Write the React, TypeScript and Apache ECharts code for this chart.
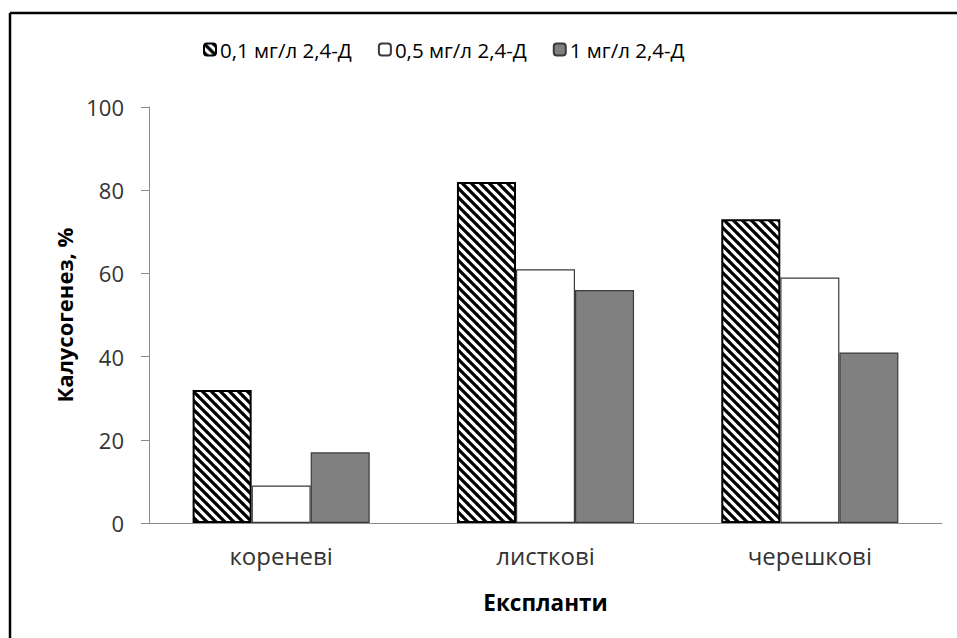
import React, { useEffect, useRef } from "react";
import * as echarts from "echarts";

const categories = ["кореневі", "листкові", "черешкові"];
const seriesNames = ["0,1 мг/л 2,4-Д", "0,5 мг/л 2,4-Д", "1 мг/л 2,4-Д"];
const values01 = [32, 82, 73];
const values05 = [9, 61, 59];
const values1 = [17, 56, 41];
const yTicks = [0, 20, 40, 60, 80, 100];

const FONT = "Open Sans";

function makeHatch(): HTMLCanvasElement {
  const s = 9;
  const c = document.createElement("canvas");
  c.width = s;
  c.height = s;
  const ctx = c.getContext("2d")!;
  ctx.fillStyle = "#fff";
  ctx.fillRect(0, 0, s, s);
  ctx.strokeStyle = "#000";
  ctx.lineWidth = 3.2;
  ctx.beginPath();
  ctx.moveTo(-1, -1);
  ctx.lineTo(s + 1, s + 1);
  ctx.moveTo(-s - 1, -1);
  ctx.lineTo(1, s + 1);
  ctx.moveTo(s - 1, -s - 1);
  ctx.lineTo(2 * s + 1, s + 1);
  ctx.moveTo(-1, -s - 1);
  ctx.lineTo(s + 1, 1);
  ctx.moveTo(-1, s - 1);
  ctx.lineTo(1, s + 1);
  ctx.stroke();
  return c;
}

export default function App() {
  const ref = useRef<HTMLDivElement>(null);
  useEffect(() => {
    if (!ref.current) return;
    const chart = echarts.init(ref.current, undefined, { renderer: "svg" });
    const hatch = makeHatch();
    chart.setOption({
      animation: false,
      backgroundColor: "#fff",
      textStyle: { fontFamily: FONT },
      graphic: [
        { type: "line", shape: { x1: 10, y1: 13, x2: 957, y2: 13 }, style: { stroke: "#000", lineWidth: 2.5 } },
        { type: "line", shape: { x1: 10, y1: 13, x2: 10, y2: 638 }, style: { stroke: "#000", lineWidth: 2.5 } },
      ],
      legend: {
        left: 203,
        top: 39,
        padding: 0,
        itemWidth: 12,
        itemHeight: 12,
        itemGap: 26,
        textStyle: { fontFamily: FONT, fontSize: 20.5, color: "#000", padding: [0, 0, 0, -1] },
        data: seriesNames,
      },
      grid: { left: 149, right: 15, top: 107, bottom: 115, containLabel: false },
      xAxis: {
        type: "category",
        data: categories,
        name: "Експланти",
        nameLocation: "middle",
        nameGap: 68,
        nameTextStyle: { fontFamily: FONT, fontSize: 22.5, fontWeight: "bold", color: "#000" },
        axisLine: { lineStyle: { color: "#8c8c8c", width: 1 } },
        axisTick: { show: false },
        axisLabel: { fontFamily: FONT, fontSize: 24, color: "#333", margin: 20 },
      },
      yAxis: {
        type: "value",
        min: 0,
        max: 100,
        interval: 20,
        name: "Калусогенез, %",
        nameLocation: "middle",
        nameGap: 70,
        nameTextStyle: { fontFamily: FONT, fontSize: 22, fontWeight: "bold", color: "#000" },
        axisLine: { show: true, lineStyle: { color: "#8c8c8c", width: 1 } },
        axisTick: { show: true, length: 8, lineStyle: { color: "#8c8c8c" } },
        splitLine: { show: false },
        axisLabel: {
          fontFamily: FONT,
          fontSize: 22,
          color: "#333",
          margin: 25,
          formatter: (v: number) => (yTicks.includes(v) ? String(v) : ""),
        },
      },
      series: [
        {
          name: seriesNames[0],
          type: "bar",
          data: values01,
          barGap: "0%",
          barCategoryGap: "33%",
          itemStyle: { color: { image: hatch, repeat: "repeat" } as any, borderColor: "#000", borderWidth: 2 },
        },
        {
          name: seriesNames[1],
          type: "bar",
          data: values05,
          itemStyle: { color: "#fff", borderColor: "#3a3a3a", borderWidth: 1.2 },
        },
        {
          name: seriesNames[2],
          type: "bar",
          data: values1,
          itemStyle: { color: "#808080", borderColor: "#3a3a3a", borderWidth: 1.2 },
        },
      ],
    });
    return () => chart.dispose();
  }, []);
  return (
    <div
      ref={ref}
      style={{ position: "fixed", left: 0, top: 0, width: 957, height: 638 }}
    />
  );
}
